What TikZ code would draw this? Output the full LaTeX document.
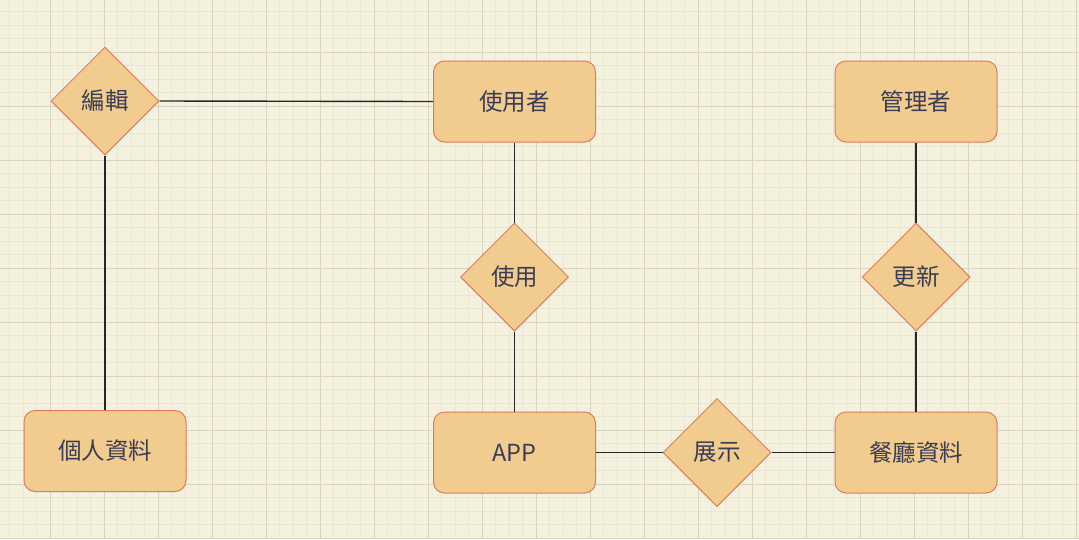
\documentclass[tikz,border=0pt]{standalone}
\usepackage{fontspec}
\setmainfont{Noto Sans CJK TC}
\usepackage{tikz}
\usetikzlibrary{shapes.geometric}
\definecolor{erBack}{HTML}{F4F1DE}
\definecolor{erFill}{HTML}{F2CC8F}
\definecolor{erFrame}{HTML}{E07A5F}
\definecolor{erInk}{HTML}{393C56}
\definecolor{gridMinor}{HTML}{EAE6D4}
\definecolor{gridMajor}{HTML}{D9D4C0}

\begin{document}
\begin{tikzpicture}[
    x=1pt, y=-1pt,
    entity/.style={
        rectangle,
        rounded corners=11pt,
        draw=erFrame,
        fill=erFill,
        minimum width=162pt,
        minimum height=81pt,
        font=\fontsize{23.5}{27}\selectfont,
        text=erInk,
        line width=1pt
    },
    relation/.style={
        diamond,
        aspect=1,
        inner sep=0pt,
        draw=erFrame,
        fill=erFill,
        minimum width=108pt,
        minimum height=108pt,
        font=\fontsize{23.5}{27}\selectfont,
        text=erInk,
        line width=1pt
    },
    link/.style={
        draw=black!85,
        line width=1.4pt
    }
]

% Background and grid
\fill[erBack] (0,0) rectangle (1079,539);
\useasboundingbox (0,0) rectangle (1079,539);
\foreach \i in {0,...,80} {
    \draw[gridMinor, line width=0.8pt] ({-4+13.5*\i},0) -- ({-4+13.5*\i},539);
}
\foreach \i in {0,...,40} {
    \draw[gridMinor, line width=0.8pt] (0,{-2+13.5*\i}) -- (1079,{-2+13.5*\i});
}
\foreach \i in {0,...,20} {
    \draw[gridMajor, line width=1pt] ({-4+54*\i},0) -- ({-4+54*\i},539);
}
\foreach \i in {0,...,10} {
    \draw[gridMajor, line width=1pt] (0,{-2+54*\i}) -- (1079,{-2+54*\i});
}

% Nodes
\node[relation] (edit) at (105,101) {編輯};
\node[entity] (user) at (514.5,101.5) {使用者};
\node[entity] (admin) at (916,101.5) {管理者};

\node[relation] (use) at (514.5,277) {使用};
\node[relation] (update) at (916,277) {更新};

\node[entity] (profile) at (105,451) {個人資料};
\node[entity] (app) at (514.5,452.5) {APP};
\node[relation] (show) at (717,452.5) {展示};
\node[entity] (restaurant) at (916,452.5) {餐廳資料};

% Connections
\draw[link] (edit.east) -- (user.west);
\draw[link] (edit.south) -- (profile.north);
\draw[link] (user.south) -- (use.north);
\draw[link] (use.south) -- (app.north);
\draw[link] (app.east) -- (show.west);
\draw[link] (show.east) -- (restaurant.west);
\draw[link] (admin.south) -- (update.north);
\draw[link] (update.south) -- (restaurant.north);

\end{tikzpicture}
\end{document}
